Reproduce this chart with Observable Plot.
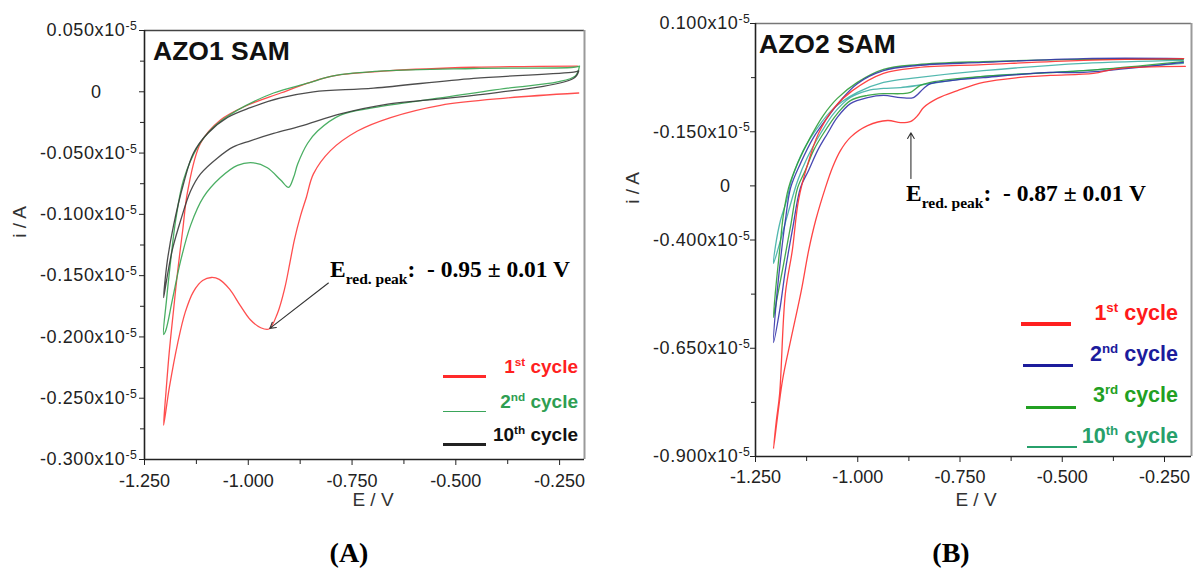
<!DOCTYPE html>
<html>
<head>
<meta charset="utf-8">
<script src="https://cdn.jsdelivr.net/npm/d3@7"></script>
<script src="https://cdn.jsdelivr.net/npm/@observablehq/plot@0.6"></script>
<style>
  html, body { margin: 0; padding: 0; background: #fff; }
  #page { position: relative; width: 1196px; height: 568px; overflow: hidden; background: #fff; }
  .panel { position: absolute; top: 0; }
  .txt { position: absolute; white-space: pre; line-height: 1; }
  .sans { font-family: "Liberation Sans", Arial, sans-serif; }
  .serif { font-family: "Liberation Serif", "Times New Roman", serif; }
  .txt sup { line-height: 0; font-size: 0.62em; vertical-align: 0.6em; }
  .txt sub { line-height: 0; }
  .swatch { position: absolute; }
</style>
</head>
<body>
<div id="page"></div>
<script>
// Cyclic voltammograms: potential E (V) against current i (in units of 1e-5 A).
// Each cycle is listed in scan order: cathodic sweep from -0.2 V down to -1.2 V, then back.

// ---------- AZO1 SAM ----------
const azo1Cycle1 = [
  [-0.204, -0.001], [-0.375, -0.005], [-0.537, -0.011], [-0.657, -0.021], [-0.737, -0.032],
  [-0.802, -0.048], [-0.843, -0.067], [-0.860, -0.086], [-0.874, -0.101], [-0.889, -0.121],
  [-0.900, -0.140], [-0.912, -0.160], [-0.930, -0.181], [-0.950, -0.1935], [-0.970, -0.1925],
  [-0.995, -0.186], [-1.020, -0.174], [-1.045, -0.161], [-1.070, -0.153], [-1.089, -0.1515],
  [-1.110, -0.154], [-1.132, -0.163], [-1.152, -0.180], [-1.170, -0.205], [-1.190, -0.241],
  [-1.204, -0.272],
  [-1.198, -0.244], [-1.190, -0.211], [-1.180, -0.178], [-1.170, -0.146], [-1.158, -0.113],
  [-1.146, -0.081], [-1.115, -0.042], [-1.067, -0.023], [-1.002, -0.011], [-0.922, -0.001],
  [-0.857, 0.007], [-0.795, 0.013], [-0.664, 0.017], [-0.457, 0.020], [-0.207, 0.021]
];
const azo1Cycle2 = [
  [-0.202, 0.021], [-0.212, 0.013], [-0.255, 0.008], [-0.375, 0.003], [-0.537, -0.005],
  [-0.698, -0.013], [-0.778, -0.019], [-0.833, -0.032], [-0.857, -0.042], [-0.881, -0.059],
  [-0.891, -0.070], [-0.903, -0.078], [-0.922, -0.072], [-0.954, -0.062], [-0.987, -0.058],
  [-1.026, -0.060], [-1.067, -0.070], [-1.108, -0.086], [-1.139, -0.109], [-1.163, -0.138],
  [-1.183, -0.170], [-1.199, -0.195], [-1.204, -0.198],
  [-1.197, -0.170], [-1.187, -0.138], [-1.175, -0.105], [-1.156, -0.072], [-1.122, -0.045],
  [-1.084, -0.029], [-1.026, -0.015], [-0.939, -0.001], [-0.857, 0.007], [-0.795, 0.013],
  [-0.674, 0.017], [-0.457, 0.019], [-0.216, 0.020], [-0.202, 0.021]
];
const azo1Cycle10 = [
  [-0.204, 0.017], [-0.216, 0.011], [-0.457, -0.003], [-0.664, -0.010], [-0.778, -0.018],
  [-0.874, -0.028], [-0.939, -0.034], [-0.995, -0.040], [-1.036, -0.045], [-1.074, -0.054],
  [-1.115, -0.067], [-1.139, -0.081], [-1.163, -0.105], [-1.183, -0.129], [-1.197, -0.154],
  [-1.204, -0.168],
  [-1.195, -0.138], [-1.180, -0.109], [-1.156, -0.075], [-1.132, -0.050], [-1.098, -0.034],
  [-1.050, -0.021], [-0.995, -0.013], [-0.922, -0.005], [-0.843, 0.000], [-0.698, 0.003],
  [-0.457, 0.011], [-0.216, 0.016], [-0.204, 0.017]
];
const azo1PeakE = -0.95;
const azo1PeakI = -0.1935;
const azo1PeakErr = 0.01;

// ---------- AZO2 SAM ----------
const azo2Cycle1 = [
  [-0.199, 0.001], [-0.365, -0.004], [-0.424, -0.015], [-0.529, -0.020], [-0.609, -0.025],
  [-0.693, -0.036], [-0.756, -0.055], [-0.805, -0.073], [-0.839, -0.094], [-0.853, -0.112],
  [-0.870, -0.126], [-0.895, -0.129], [-0.927, -0.124], [-0.976, -0.136], [-1.018, -0.163],
  [-1.042, -0.193], [-1.062, -0.233], [-1.079, -0.279], [-1.103, -0.355], [-1.120, -0.424],
  [-1.138, -0.517], [-1.164, -0.632], [-1.184, -0.724], [-1.206, -0.882],
  [-1.199, -0.817], [-1.191, -0.755], [-1.177, -0.524], [-1.160, -0.424], [-1.145, -0.309],
  [-1.125, -0.233], [-1.096, -0.154], [-1.057, -0.094], [-1.013, -0.055], [-0.937, -0.015],
  [-0.854, -0.002], [-0.693, 0.005], [-0.448, 0.015], [-0.203, 0.019]
];
const azo2Cycle2 = [
  [-0.204, 0.010], [-0.448, -0.013], [-0.529, -0.013], [-0.693, -0.025], [-0.773, -0.032],
  [-0.822, -0.039], [-0.839, -0.050], [-0.864, -0.071], [-0.895, -0.071], [-0.937, -0.066],
  [-0.976, -0.071], [-1.018, -0.085], [-1.050, -0.117], [-1.074, -0.154], [-1.098, -0.193],
  [-1.120, -0.239], [-1.140, -0.279], [-1.160, -0.378], [-1.177, -0.470], [-1.191, -0.563],
  [-1.206, -0.637],
  [-1.199, -0.540], [-1.189, -0.447], [-1.177, -0.355], [-1.164, -0.279], [-1.140, -0.223],
  [-1.108, -0.163], [-1.074, -0.117], [-1.042, -0.078], [-1.001, -0.039], [-0.937, -0.009],
  [-0.854, 0.003], [-0.693, 0.010], [-0.448, 0.019], [-0.204, 0.019]
];
const azo2Cycle3 = [
  [-0.204, 0.012], [-0.448, -0.009], [-0.693, -0.022], [-0.773, -0.029], [-0.822, -0.036],
  [-0.847, -0.043], [-0.871, -0.059], [-0.895, -0.062], [-0.937, -0.062], [-0.976, -0.066],
  [-1.018, -0.078], [-1.050, -0.108], [-1.084, -0.154], [-1.108, -0.193], [-1.128, -0.239],
  [-1.147, -0.279], [-1.164, -0.367], [-1.182, -0.459], [-1.196, -0.528], [-1.206, -0.579],
  [-1.201, -0.517], [-1.191, -0.424], [-1.182, -0.343], [-1.169, -0.279], [-1.147, -0.223],
  [-1.116, -0.163], [-1.084, -0.112], [-1.050, -0.073], [-1.001, -0.036], [-0.937, -0.006],
  [-0.854, 0.005], [-0.693, 0.012], [-0.448, 0.017], [-0.204, 0.017]
];
const azo2Cycle10 = [
  [-0.204, 0.008], [-0.448, -0.009], [-0.693, -0.022], [-0.773, -0.032], [-0.895, -0.048],
  [-0.937, -0.050], [-0.976, -0.055], [-1.018, -0.071], [-1.059, -0.108], [-1.091, -0.154],
  [-1.123, -0.209], [-1.147, -0.263], [-1.172, -0.343], [-1.191, -0.408], [-1.206, -0.454],
  [-1.201, -0.413], [-1.189, -0.355], [-1.174, -0.309], [-1.160, -0.256], [-1.133, -0.193],
  [-1.098, -0.140], [-1.059, -0.096], [-1.001, -0.059], [-0.937, -0.036], [-0.854, -0.025],
  [-0.693, -0.009], [-0.448, 0.008], [-0.204, 0.015]
];
const azo2PeakE = -0.87;
const azo2PeakI = -0.126;
const azo2PeakErr = 0.01;

// ---------- axes ----------
const xTicks = [-1.25, -1.0, -0.75, -0.5, -0.25];
const xTickLabels = ["-1.250", "-1.000", "-0.750", "-0.500", "-0.250"];
const xMinorTicks = [-1.125, -0.875, -0.625, -0.375];

const azo1YTicks = [0.05, 0, -0.05, -0.10, -0.15, -0.20, -0.25, -0.30];
const azo1YLabels = ["0.050", "0", "-0.050", "-0.100", "-0.150", "-0.200", "-0.250", "-0.300"];
const azo1YMinor = [0.025, -0.025, -0.075, -0.125, -0.175, -0.225, -0.275];

const azo2YTicks = [0.1, -0.15, -0.275, -0.4, -0.65, -0.9];
const azo2YLabels = ["0.100", "-0.150", "0", "-0.400", "-0.650", "-0.900"];
const azo2YMinor = [-0.025, -0.525, -0.775];

const fmtFrom = (ticks, labels) => d => labels[ticks.indexOf(d)];

function drawPanel(cfg) {
  const svg = Plot.plot({
    width: cfg.width,
    height: cfg.height,
    marginLeft: cfg.margin[3],
    marginRight: cfg.margin[1],
    marginTop: cfg.margin[0],
    marginBottom: cfg.margin[2],
    x: {domain: cfg.xDomain},
    y: {domain: cfg.yDomain},
    style: {fontFamily: '"Liberation Sans", Arial, sans-serif', fontSize: "16px", color: "#222", background: "transparent", overflow: "visible"},
    marks: [
      Plot.ruleY([cfg.yDomain[1]], {stroke: cfg.topColor, strokeWidth: 1.5}),
      Plot.ruleX([cfg.xDomain[1]], {stroke: "#9a9a9a", strokeWidth: 2}),
      ...cfg.series.map(s => Plot.line(s.points, {
        x: d => d[0], y: d => d[1], stroke: s.color, strokeWidth: 1.3, strokeOpacity: 0.9, curve: "catmull-rom"
      })),
      Plot.ruleX([cfg.xDomain[0]], {stroke: "#222", strokeWidth: 1.6}),
      Plot.ruleY([cfg.yDomain[0]], {stroke: "#222", strokeWidth: 1.6}),
      Plot.axisX(xTicks, {tickFormat: fmtFrom(xTicks, xTickLabels), tickSize: 6, tickPadding: cfg.xPad, label: null}),
      Plot.axisX(xMinorTicks, {tickFormat: () => "", tickSize: 5, label: null}),
      Plot.axisY(cfg.yTicks, {tickFormat: fmtFrom(cfg.yTicks, cfg.yLabels), tickSize: 5, tickPadding: cfg.yPad, label: null}),
      Plot.axisY(cfg.yMinor, {tickFormat: () => "", tickSize: 4, label: null}),
      Plot.arrow([cfg.arrow], {x1: "x1", y1: "y1", x2: "x2", y2: "y2", stroke: "#333", strokeWidth: 1.1, headLength: 9, insetEnd: 1})
    ]
  });
  svg.querySelectorAll('g[aria-label="x-axis tick label"]').forEach(g => g.setAttribute("font-size", cfg.xFont));
  svg.querySelectorAll('g[aria-label="y-axis tick label"]').forEach(g => {
    g.setAttribute("font-size", cfg.yFont);
    g.setAttribute("letter-spacing", "0.6");
  });
  // y tick labels carry the ×10^-5 exponent as a superscript
  svg.querySelectorAll('g[aria-label="y-axis tick label"] text').forEach(t => {
    const m = t.textContent;
    if (!m) return;
    if (m === "0") { t.setAttribute("dx", cfg.zeroShift); return; }
    t.textContent = m + "x10";
    const sup = document.createElementNS("http://www.w3.org/2000/svg", "tspan");
    sup.setAttribute("dy", "-0.5em");
    sup.setAttribute("font-size", "0.68em");
    sup.textContent = "-5";
    t.appendChild(sup);
  });
  return svg;
}

const page = document.getElementById("page");

function addPanel(left, svg) {
  const d = document.createElement("div");
  d.className = "panel";
  d.style.left = left + "px";
  d.appendChild(svg);
  page.appendChild(d);
}

addPanel(0, drawPanel({
  width: 600, height: 520, margin: [30, 16, 61, 144],
  xDomain: [-1.25, -0.19], yDomain: [-0.30, 0.05],
  yTicks: azo1YTicks, yLabels: azo1YLabels, yMinor: azo1YMinor,
  xPad: 9, yPad: 2, xFont: 18, yFont: 18, zeroShift: -36, topColor: "#444",
  series: [
    {points: azo1Cycle1, color: "#ff3b3b"},
    {points: azo1Cycle2, color: "#36a552"},
    {points: azo1Cycle10, color: "#3a3a3a"}
  ],
  arrow: {x1: -0.807, y1: -0.156, x2: azo1PeakE, y2: azo1PeakI}
}));

addPanel(610, drawPanel({
  width: 586, height: 520, margin: [23, 5, 64, 145],
  xDomain: [-1.25, -0.184], yDomain: [-0.9, 0.1],
  yTicks: azo2YTicks, yLabels: azo2YLabels, yMinor: azo2YMinor,
  xPad: 8, yPad: 0, xFont: 18, yFont: 18, zeroShift: -20, topColor: "#777",
  series: [
    {points: azo2Cycle10, color: "#3fb0a6"},
    {points: azo2Cycle3, color: "#2f9f3a"},
    {points: azo2Cycle2, color: "#3434aa"},
    {points: azo2Cycle1, color: "#ff3030"}
  ],
  arrow: {x1: azo2PeakE, y1: -0.258, x2: azo2PeakE, y2: -0.150}
}));

// ---------- text and legends ----------
const ASC = {sans: 0.8465, serif: 0.8375};
function text(html, {x, baseline, size, family = "sans", weight = "bold", color = "#111", anchor = "start"}) {
  const d = document.createElement("div");
  d.className = "txt " + family;
  d.innerHTML = html;
  d.style.fontSize = size + "px";
  d.style.fontWeight = weight;
  d.style.color = color;
  d.style.top = (baseline - ASC[family] * size) + "px";
  if (anchor === "end") d.style.right = (1196 - x) + "px";
  else if (anchor === "middle") { d.style.left = x + "px"; d.style.transform = "translateX(-50%)"; }
  else d.style.left = x + "px";
  page.appendChild(d);
  return d;
}
function swatch(x, y, w, h, color) {
  const d = document.createElement("div");
  d.className = "swatch";
  Object.assign(d.style, {left: x + "px", top: y + "px", width: w + "px", height: h + "px", background: color});
  page.appendChild(d);
}
function rotated(label, cx, cy, size) {
  const d = document.createElement("div");
  d.className = "txt sans";
  d.textContent = label;
  Object.assign(d.style, {left: cx + "px", top: cy + "px", fontSize: size + "px", color: "#333",
    transform: "translate(-50%, -50%) rotate(-90deg)"});
  page.appendChild(d);
}
const peakText = (e, err) =>
  `E<sub style="font-size:15.5px;vertical-align:-7px">red. peak</sub>:  - ${Math.abs(e).toFixed(2)} ± ${err.toFixed(2)} V`;

// panel A
text("AZO1 SAM", {x: 153, baseline: 60, size: 26.5});
text(peakText(azo1PeakE, azo1PeakErr), {x: 330, baseline: 278, size: 23.5, family: "serif", color: "#000"});
swatch(443, 374.5, 43, 3, "#ff2a2a");
swatch(443, 410.5, 43, 1.6, "#3aa55a");
swatch(443, 442.5, 43, 3, "#222");
text("1<sup>st</sup> cycle", {x: 578, baseline: 373, size: 19, color: "#ff1f1f", anchor: "end"});
text("2<sup>nd</sup> cycle", {x: 578, baseline: 408, size: 19, color: "#2e9e52", anchor: "end"});
text("10<sup>th</sup> cycle", {x: 578, baseline: 441, size: 19, color: "#111", anchor: "end"});
text("E / V", {x: 373, baseline: 506, size: 19, weight: "normal", color: "#333", anchor: "middle"});
rotated("i / A", 19, 222, 19);
text("(A)", {x: 349, baseline: 562, size: 28, family: "serif", color: "#000", anchor: "middle"});

// panel B
text("AZO2 SAM", {x: 759, baseline: 53, size: 26.5});
text(peakText(azo2PeakE, azo2PeakErr), {x: 906, baseline: 202, size: 23.5, family: "serif", color: "#000"});
swatch(1021, 322, 50, 3.5, "#ff2020");
swatch(1023, 364, 50, 2.5, "#1c1c9c");
swatch(1026, 405.5, 50, 3, "#22a022");
swatch(1027, 445.5, 50, 2, "#27a06b");
text("1<sup>st</sup> cycle", {x: 1178, baseline: 321, size: 21.5, color: "#ff1a1a", anchor: "end"});
text("2<sup>nd</sup> cycle", {x: 1178, baseline: 362, size: 21.5, color: "#1c1c9c", anchor: "end"});
text("3<sup>rd</sup> cycle", {x: 1178, baseline: 403, size: 21.5, color: "#22a022", anchor: "end"});
text("10<sup>th</sup> cycle", {x: 1178, baseline: 444, size: 21.5, color: "#27a06b", anchor: "end"});
text("E / V", {x: 976, baseline: 506, size: 19, weight: "normal", color: "#333", anchor: "middle"});
rotated("i / A", 632, 188, 19);
text("(B)", {x: 951, baseline: 562, size: 28, family: "serif", color: "#000", anchor: "middle"});
</script>
</body>
</html>
